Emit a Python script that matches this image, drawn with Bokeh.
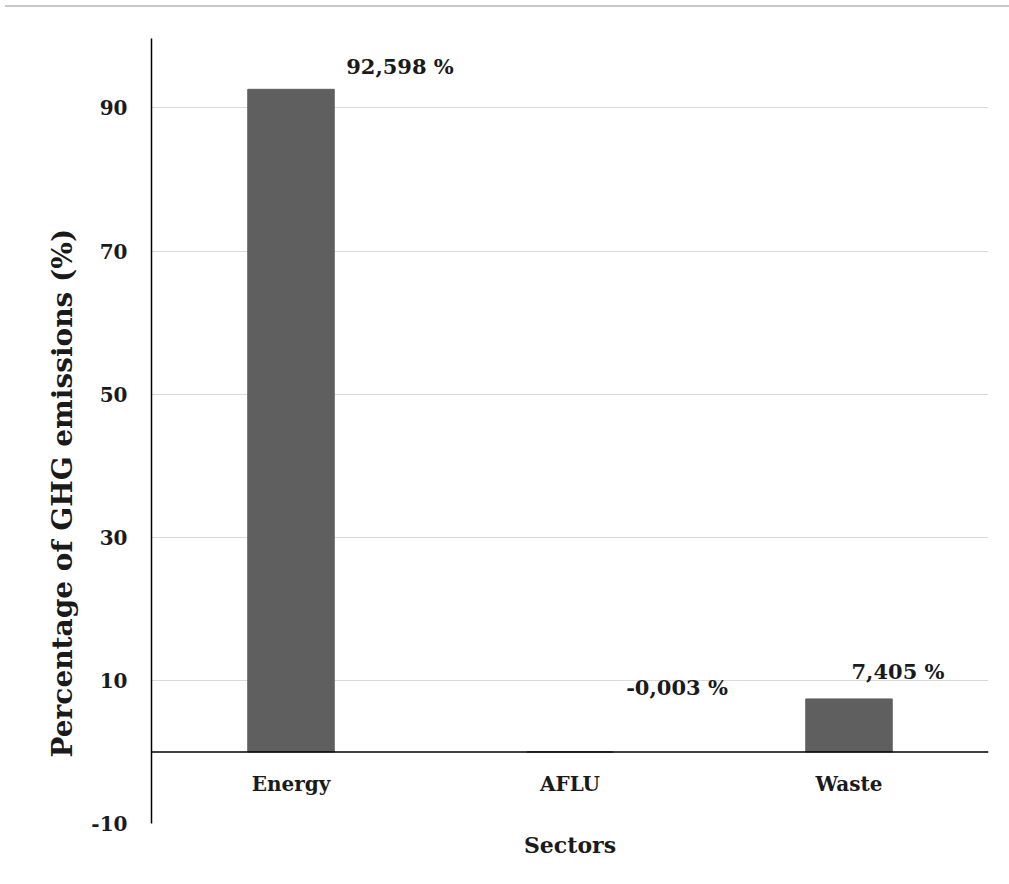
from bokeh.plotting import figure
from bokeh.models import ColumnDataSource, Range1d, FixedTicker, Span, Div, Title
from bokeh.layouts import column
from bokeh.core.properties import value
from bokeh.embed import file_html
from bokeh.resources import INLINE

# ---- data ----
sectors = ["Energy", "AFLU", "Waste"]
shares = [92.598, -0.003, 7.405]
share_labels = ["92,598 %", "-0,003 %", "7,405 %"]
y_ticks = [-10, 10, 30, 50, 70, 90]

# ---- label placement (style, screen px) ----
label_dx = [109, 107, 49]
label_dy = [-23, -64, -27]

FONT = value("DejaVu Serif")
BAR = "#5f5f5f"
INK = "#1a1a1a"

src = ColumnDataSource(dict(sector=sectors, share=shares, lab=share_labels,
                            dx=label_dx, dy=label_dy, zero=[0] * len(sectors)))

p = figure(x_range=sectors, y_range=Range1d(-10, 99.7), width=1001, height=866,
           output_backend="svg", toolbar_location=None,
           min_border_left=151, min_border_right=13, min_border_top=26, min_border_bottom=55)
p.outline_line_color = None
p.background_fill_color = "white"

p.vbar(x="sector", top="share", bottom=0, width=0.31, source=src,
       fill_color=BAR, line_color=BAR, line_width=1)

p.add_layout(Span(location=0, dimension="width", line_color="black", line_width=1.5))

# data labels
p.text(x="sector", y="share", text="lab", source=src, x_offset="dx", y_offset="dy",
       text_font=FONT, text_font_style="bold", text_font_size="21px",
       text_align="center", text_baseline="middle", text_color=INK)

# category labels under the zero line
p.text(x="sector", y="zero", text="sector", source=src, y_offset=32,
       text_font=FONT, text_font_style="bold", text_font_size="20px",
       text_align="center", text_baseline="middle", text_color=INK)

# y axis
ya = p.yaxis[0]
ya.ticker = FixedTicker(ticks=y_ticks)
ya.major_label_overrides = {t: str(t) for t in y_ticks}
ya.major_tick_line_color = None
ya.minor_tick_line_color = None
ya.axis_line_color = "black"
ya.axis_line_width = 1.5
ya.major_label_standoff = 18
ya.major_label_text_font = "DejaVu Serif"
ya.major_label_text_font_style = "bold"
ya.major_label_text_font_size = "20px"
ya.major_label_text_color = INK

# y axis title (placed lower than the frame centre, as in the reference)
p.add_layout(Title(text="Percentage of GHG emissions (%)", align="left", offset=66,
                   text_font="DejaVu Serif", text_font_style="bold", text_font_size="28px",
                   text_color=INK, standoff=19), "left")

# x axis title only
p.xaxis.visible = False
p.add_layout(Title(text="Sectors", align="center", text_font="DejaVu Serif",
                   text_font_style="bold", text_font_size="22px", text_color=INK,
                   standoff=13), "below")

p.xgrid.grid_line_color = None
p.ygrid.ticker = FixedTicker(ticks=y_ticks)
p.ygrid.grid_line_color = "#d9d9d9"
p.ygrid.grid_line_width = 1

top_rule = Div(text="", width=1009, height=2, styles={"background-color": "#c8c8c8"})

layout = column(top_rule, p, spacing=0)
open("out.html", "w").write(file_html(layout, INLINE))
